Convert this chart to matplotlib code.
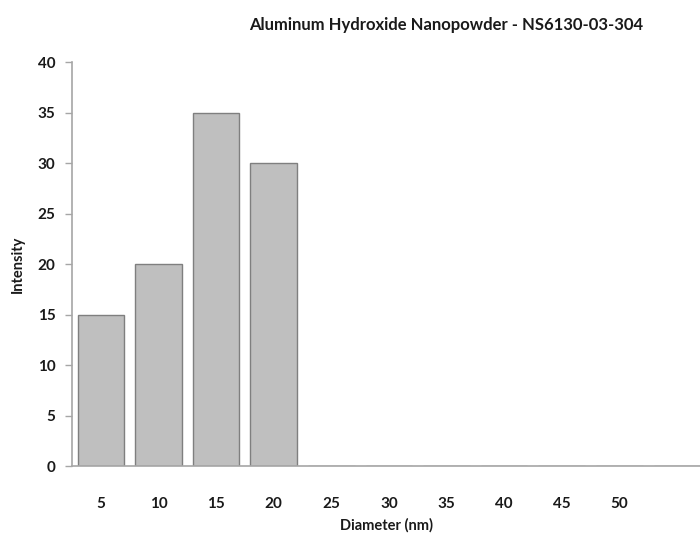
import numpy as np
import matplotlib
matplotlib.use('Agg')
import matplotlib.pyplot as plt

diameters = ['5', '10', '15', '20', '25', '30', '35', '40', '45', '50', '']
intensity = [15, 20, 35, 30, 0, 0, 0, 0, 0, 0, 0]
y_ticks = [0, 5, 10, 15, 20, 25, 30, 35, 40]

plt.rcParams['font.family'] = ['Lato', 'DejaVu Sans']
plt.rcParams['font.weight'] = 'bold'

fig = plt.figure(figsize=(7, 5.37), dpi=100)
ax = fig.add_axes([0.103, 0.132, 0.897, 0.7525])

x = np.arange(len(diameters))
ax.bar(x, intensity, width=0.81, color='#bfbfbf', edgecolor='#7f7f7f', linewidth=1.0, zorder=2)

ax.set_xlim(-0.5, 10.4)
ax.set_ylim(0, 40)
ax.set_xticks(x)
ax.set_xticklabels(diameters)
ax.set_yticks(y_ticks)

for s in ['top', 'right']:
    ax.spines[s].set_visible(False)
for s in ['left', 'bottom']:
    ax.spines[s].set_color('#a6a6a6')
    ax.spines[s].set_linewidth(1.2)

ax.tick_params(axis='x', length=0, pad=22, labelsize=11, colors='#1a1a1a')
ax.tick_params(axis='y', length=5, width=1, color='#a6a6a6', pad=7, labelsize=11, labelcolor='#1a1a1a')
for lbl in ax.get_xticklabels() + ax.get_yticklabels():
    lbl.set_fontweight('bold')

ax.set_xlabel('Diameter (nm)', fontsize=10.5, fontweight='bold', labelpad=5, color='#1a1a1a')
ax.set_ylabel('Intensity', fontsize=10.5, fontweight='bold', labelpad=9, color='#1a1a1a')

fig.text(0.637, 0.953, 'Aluminum Hydroxide Nanopowder - NS6130-03-304',
         ha='center', va='center', fontsize=12, fontweight='bold', color='#1a1a1a')

fig.savefig('out.png', dpi=100)
